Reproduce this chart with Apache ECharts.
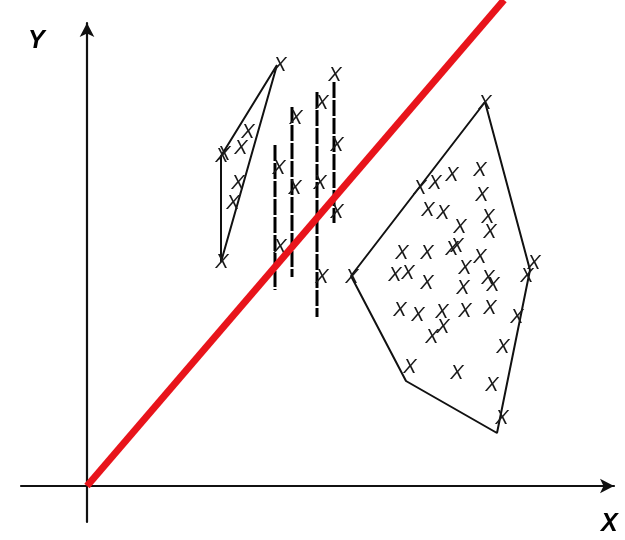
<!DOCTYPE html>
<html>
<head>
<meta charset="utf-8">
<script src="https://cdn.jsdelivr.net/npm/echarts@6/dist/echarts.min.js"></script>
<style>html,body{margin:0;padding:0;background:#fff;}#c{width:625px;height:540px;}</style>
</head>
<body>
<div id="c"></div>
<script>
// Data space: origin at axes intersection, units arbitrary
const xRange = [-6.6, 52.7];
const yRange = [-3.6, 46.3];

const redLine = [[0, 0], [41.7, 48.6]];

const leftPolygon = [[19.0, 42.1], [13.4, 33.0], [13.4, 22.4], [19.0, 42.1]];
const leftMarks = [
  [19.3, 42.1], [13.5, 33.0], [13.7, 33.2], [16.1, 35.4], [15.4, 33.8],
  [15.1, 30.3], [14.6, 28.3], [13.5, 22.4]
];

const dashedLines = [
  [[18.8, 34.1], [18.8, 19.6]],
  [[20.5, 37.9], [20.5, 20.9]],
  [[23.0, 39.4], [23.0, 16.9]],
  [[24.7, 40.4], [24.7, 26.3]]
];
const dashedMarks = [
  [19.2, 31.8], [19.3, 23.9], [20.9, 36.8], [20.8, 29.8], [23.5, 38.3],
  [23.3, 30.3], [23.5, 20.9], [24.8, 41.1], [25.0, 34.1], [25.0, 27.4]
];

const rightPolygon = [[39.8, 38.4], [44.3, 21.6], [41.0, 5.3], [31.9, 10.5], [26.4, 21.0], [39.8, 38.4]];
const rightMarks = [
  [39.8, 38.3], [33.3, 29.8], [34.8, 30.3], [36.5, 31.1], [39.3, 31.6],
  [39.5, 29.1], [34.1, 27.6], [35.6, 27.3], [37.3, 25.9], [40.1, 26.9],
  [40.3, 25.4], [31.5, 23.3], [34.0, 23.3], [36.5, 23.7], [37.0, 24.0],
  [39.3, 22.9], [30.8, 21.1], [32.1, 21.3], [34.0, 20.3], [37.8, 21.8],
  [37.6, 19.8], [40.1, 20.8], [40.6, 20.1], [44.7, 22.3], [44.0, 21.0],
  [31.3, 17.6], [33.1, 17.1], [35.5, 17.4], [37.8, 17.5], [40.3, 17.8],
  [43.0, 16.9], [35.6, 15.9], [34.5, 14.9], [41.6, 13.9], [32.3, 11.9],
  [37.0, 11.3], [40.5, 10.1], [41.5, 6.8], [26.5, 20.9]
];

const axisNames = { x: 'X', y: 'Y' };

const chart = echarts.init(document.getElementById('c'), null, { renderer: 'canvas' });

const markLabel = {
  show: true, position: 'inside', formatter: 'X', opacity: 1,
  fontFamily: 'Liberation Sans', fontStyle: 'italic', fontSize: 20, color: '#1a1a1a'
};
function markSeries(data) {
  return {
    type: 'scatter', data: data, symbol: 'circle', symbolSize: 1,
    itemStyle: { color: 'rgba(0,0,0,0)' }, label: markLabel, z: 3, silent: true
  };
}
function polySeries(data) {
  return {
    type: 'line', data: data, symbol: 'none', z: 2, silent: true,
    lineStyle: { color: '#111', width: 2 }
  };
}

const series = [];
series.push(polySeries(leftPolygon));
series.push(polySeries(rightPolygon));
dashedLines.forEach(d => series.push({
  type: 'line', data: d, symbol: 'none', z: 2, silent: true,
  lineStyle: { color: '#000', width: 3, type: [16, 2] }
}));
series.push(markSeries(leftMarks));
series.push(markSeries(dashedMarks));
series.push(markSeries(rightMarks));
series.push({
  type: 'line', data: redLine, symbol: 'none', z: 5, clip: false, silent: true,
  lineStyle: { color: '#e8141b', width: 7 }
});

const axisCommon = {
  type: 'value', splitLine: { show: false }, axisTick: { show: false }, axisLabel: { show: false },
  axisLine: { show: true, onZero: true, symbol: ['none', 'arrow'], symbolSize: [11, 14],
    lineStyle: { color: '#111', width: 2.2 } }
};

chart.setOption({
  animation: false,
  backgroundColor: '#fff',
  grid: { left: 21, right: 11, top: 23, bottom: 18, containLabel: false },
  xAxis: Object.assign({}, axisCommon, { min: xRange[0], max: xRange[1] }),
  yAxis: Object.assign({}, axisCommon, { min: yRange[0], max: yRange[1] }),
  graphic: [
    { type: 'text', left: 28, top: 29, style: { text: axisNames.y, font: 'italic bold 25px "Liberation Sans"', fill: '#000' } },
    { type: 'text', left: 601, top: 512, style: { text: axisNames.x, font: 'italic bold 25px "Liberation Sans"', fill: '#000' } }
  ],
  series: series
});
</script>
</body>
</html>
